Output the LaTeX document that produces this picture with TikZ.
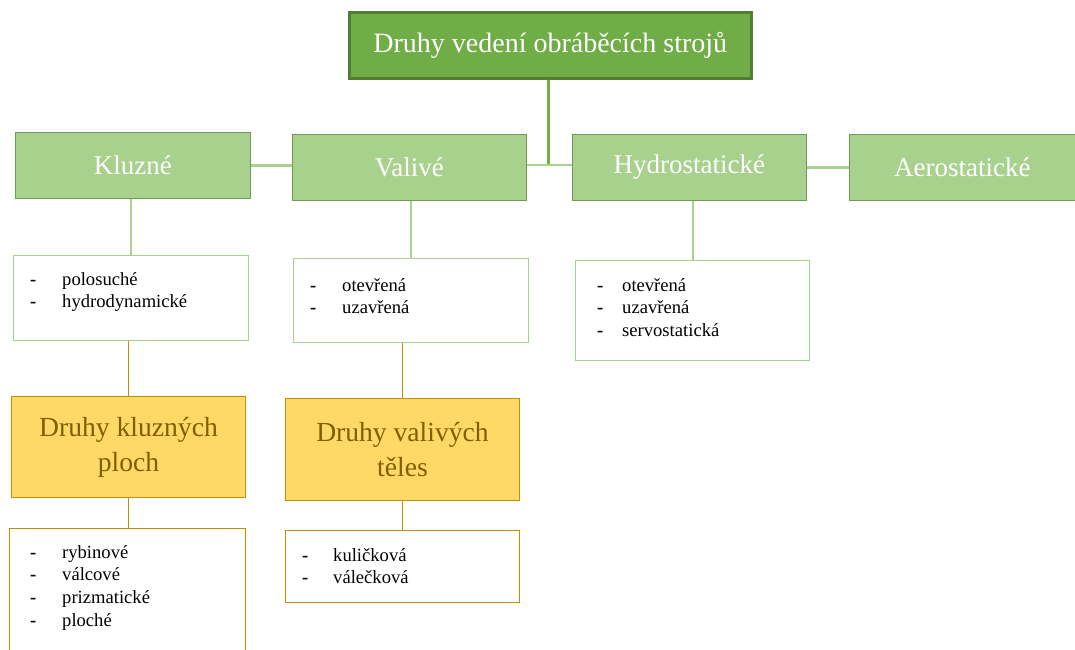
\documentclass[tikz,border=0pt]{standalone}
\usepackage{fontspec}
\setmainfont{Liberation Serif}
\definecolor{gDark}{HTML}{70AD47}
\definecolor{gDarkBorder}{HTML}{507E32}
\definecolor{gLight}{HTML}{A9D18E}
\definecolor{gLightBorder}{HTML}{6F9B52}
\definecolor{yFill}{HTML}{FFD966}
\definecolor{yBorder}{HTML}{BF9000}
\definecolor{yText}{HTML}{7F6000}
\newcommand{\itm}[2]{\makebox[#1][l]{\textbf{-}}#2}
\tikzset{
 titlebox/.style={draw=gDarkBorder, line width=2.5pt, fill=gDark, text=white, anchor=north west, inner sep=0pt, font=\fontsize{28}{34}\selectfont},
 catbox/.style={draw=gLightBorder, line width=0.9pt, fill=gLight, text=white, anchor=north west, inner sep=0pt, font=\fontsize{27}{33}\selectfont},
 listbox/.style={draw=gLight, line width=1.2pt, fill=white, anchor=north west, inner sep=0pt},
 typebox/.style={draw=yBorder, line width=1pt, fill=yFill, text=yText, anchor=north west, inner sep=0pt, align=center, font=\fontsize{27.6}{35}\selectfont},
 typelist/.style={draw=yBorder, line width=1pt, fill=white, anchor=north west, inner sep=0pt},
 listtext/.style={anchor=base west, inner sep=0pt, font=\fontsize{18.6}{22.8}\selectfont},
 glink/.style={draw=gLight, line width=2.5pt},
 gdlink/.style={draw=gDark, line width=3pt},
 ylink/.style={draw=yBorder, line width=1.5pt},
}
\begin{document}
\begin{tikzpicture}[x=1pt,y=-1pt]
\clip (0,0) rectangle (1075,649);
\fill[white] (0,0) rectangle (1075,649);
% level 0
\node[titlebox, minimum width=402pt, minimum height=66pt] (top) at (348,11) {Druhy vedení obráběcích strojů};
% level 1
\node[catbox, minimum width=235pt, minimum height=66pt] (kl) at (15,132) {Kluzné};
\node[catbox, minimum width=234pt, minimum height=66pt] (va) at (292,134) {Valivé};
\node[catbox, minimum width=234pt, minimum height=66pt] (hy) at (572,134) {Hydrostatické};
\node[catbox, minimum width=226pt, minimum height=66pt] (ae) at (849,134) {Aerostatické};
% lists
\node[listbox, minimum width=235pt, minimum height=85pt] (kll) at (13,255) {};
\node[listbox, minimum width=235pt, minimum height=84pt] (val) at (293,258) {};
\node[listbox, minimum width=234pt, minimum height=100pt] (hyl) at (575,260) {};
% types
\node[typebox, minimum width=234pt, minimum height=101pt] (kt) at (11,396) {Druhy kluzných\\ploch};
\node[typebox, minimum width=234pt, minimum height=102pt] (vt) at (285,398) {Druhy valivých\\těles};
\node[typelist, minimum width=236pt, minimum height=140pt] (ktl) at (9,528) {};
\node[typelist, minimum width=234pt, minimum height=72pt] (vtl) at (285,530) {};
% list texts
\node[listtext] (kllt) at (30,285) {\begin{tabular}[t]{@{}l@{}}\itm{32pt}{polosuché}\\\itm{32pt}{hydrodynamické}\end{tabular}};
\node[listtext] (valt) at (310,291) {\begin{tabular}[t]{@{}l@{}}\itm{32pt}{otevřená}\\\itm{32pt}{uzavřená}\end{tabular}};
\node[listtext] (hylt) at (597,291) {\begin{tabular}[t]{@{}l@{}}\itm{25pt}{otevřená}\\\itm{25pt}{uzavřená}\\\itm{25pt}{servostatická}\end{tabular}};
\node[listtext] (ktlt) at (30,558) {\begin{tabular}[t]{@{}l@{}}\itm{32pt}{rybinové}\\\itm{32pt}{válcové}\\\itm{32pt}{prizmatické}\\\itm{32pt}{ploché}\end{tabular}};
\node[listtext] (vtlt) at (302,561) {\begin{tabular}[t]{@{}l@{}}\itm{31pt}{kuličková}\\\itm{31pt}{válečková}\end{tabular}};
% connectors
\coordinate (j) at (548,165);
\draw[gdlink] (top.south -| j) -- (j);
\draw[glink] (kl.east) -- (kl.east -| va.west);
\draw[glink] (va.east |- j) -- (hy.west |- j);
\draw[glink] (hy.east) -- (ae.west);
\draw[glink, line width=2pt] (kll.north |- kl.south) -- (kll.north);
\draw[glink, line width=2pt] (val.north |- va.south) -- (val.north);
\draw[glink, line width=2pt] (hyl.north |- hy.south) -- (hyl.north);
\draw[ylink] (kt.north |- kll.south) -- (kt.north);
\draw[ylink] (vt.north |- val.south) -- (vt.north);
\draw[ylink] (kt.south) -- (kt.south |- ktl.north);
\draw[ylink] (vt.south) -- (vt.south |- vtl.north);
\end{tikzpicture}
\end{document}
